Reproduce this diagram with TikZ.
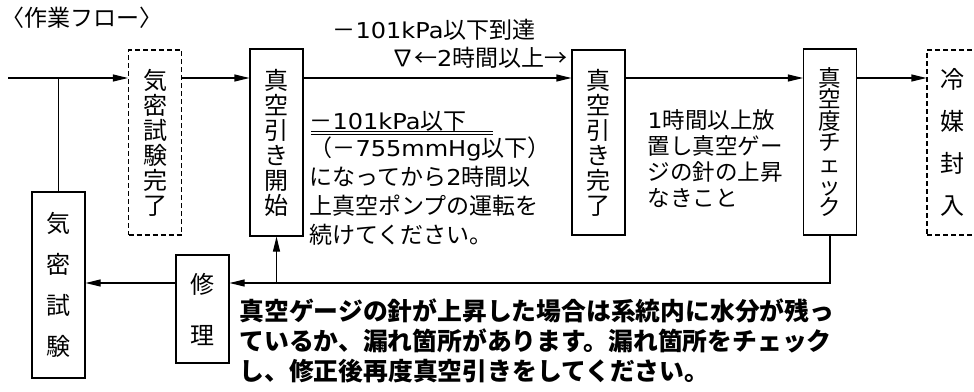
\documentclass[tikz,border=0pt]{standalone}
\usepackage{fontspec}
\setmainfont{Noto Sans CJK JP}
\newfontfamily\latfont{DejaVu Sans}[FakeStretch=1.1, Scale=0.95]
\newcommand{\lt}[1]{{\latfont #1}}
\usetikzlibrary{arrows.meta}
\begin{document}
\begin{tikzpicture}[x=1pt,y=-1pt,line width=1.1pt,
  box/.style={draw, line width=1.1pt, minimum width=53pt, inner sep=0pt, align=center, font=\fontsize{24}{25}\selectfont},
  dbox/.style={box, dash pattern=on 5pt off 3pt},
  arr/.style={-{Triangle[length=15pt,width=7pt]}},
  txt/.style={inner sep=0pt, align=left, anchor=west, font=\fontsize{23}{29.25}\selectfont}]
\useasboundingbox (0,0) rectangle (974,391);
\clip (0,0) rectangle (974,391);

% title
\node[txt, font=\fontsize{23}{24}\selectfont] (title) at (0.5,18) {〈作業フロー〉};

% boxes
\node[dbox, minimum height=185pt] (kmk) at (155,142.5) {気\\密\\試\\験\\完\\了};
\node[box, minimum height=187pt] (vs) at (276.5,142.5) {真\\空\\引\\き\\開\\始};
\node[box, minimum height=185pt] (vc) at (598.5,142.5) {真\\空\\引\\き\\完\\了};
\node[box, minimum height=186pt, font=\fontsize{22.5}{21.6}\selectfont] (chk) at (830,142) {真\\空\\度\\チ\\ェ\\ッ\\ク};
\node[dbox, minimum width=50pt, minimum height=185pt, font=\fontsize{24}{42}\selectfont] (rf) at (952,142.5) {冷\\媒\\封\\入};
\node[box, minimum height=186pt, font=\fontsize{24}{41}\selectfont] (kms) at (58.5,285) {気\\密\\試\\験};
\node[box, minimum height=108pt, font=\fontsize{24}{51}\selectfont] (sr) at (202.5,309) {修\\理};

% main line
\coordinate (start) at (8,78);
\coordinate (j) at (58.5,78);
\draw (start) -- (j);
\draw[arr] (j) -- (j -| kmk.west);
\draw (j) -- (kms.north);
\draw[arr] (kmk.east |- start) -- (vs.west |- start);
\draw[arr] (vs.east |- start) -- (vc.west |- start);
\draw[arr] (vc.east |- start) -- (chk.west |- start);
\draw[arr] (chk.east |- start) -- (rf.west |- start);

% feedback
\coordinate (fb) at (276.5,283);
\draw[arr] (chk.south) -- (chk.south |- fb) -- (sr.east |- fb);
\draw[arr] (fb) -- (vs.south);
\draw[arr] (sr.west |- fb) -- (kms.east |- fb);

% top labels
\node[txt] (lbl1) at (332,30) {－\lt{101kPa}以下到達};
\node[txt, anchor=east] (lbl2) at (568,58) {∇←\lt{2}時間以上→};

% middle text
\node[txt] (m1) at (309,121) {－\lt{101kPa}以下};
\draw[line width=0.9pt] (311,131) -- (493,131);
\draw[line width=0.9pt] (311,134.5) -- (493,134.5);
\node[txt, anchor=north west] (m2) at (309,136) {（－\lt{755mmHg}以下）\\になってから\lt{2}時間以\\上真空ポンプの運転を\\続けてください。};

% right text
\node[txt, anchor=north west, font=\fontsize{22.5}{26}\selectfont] (r1) at (647,109) {\lt{1}時間以上放\\置し真空ゲー\\ジの針の上昇\\なきこと};

% bold note
\node[txt, anchor=north west, font=\bfseries\fontsize{24.8}{30}\selectfont] (note) at (239,298) {真空ゲージの針が上昇した場合は系統内に水分が残っ\\ているか、漏れ箇所があります。漏れ箇所をチェック\\し、修正後再度真空引きをしてください。};
\end{tikzpicture}
\end{document}
